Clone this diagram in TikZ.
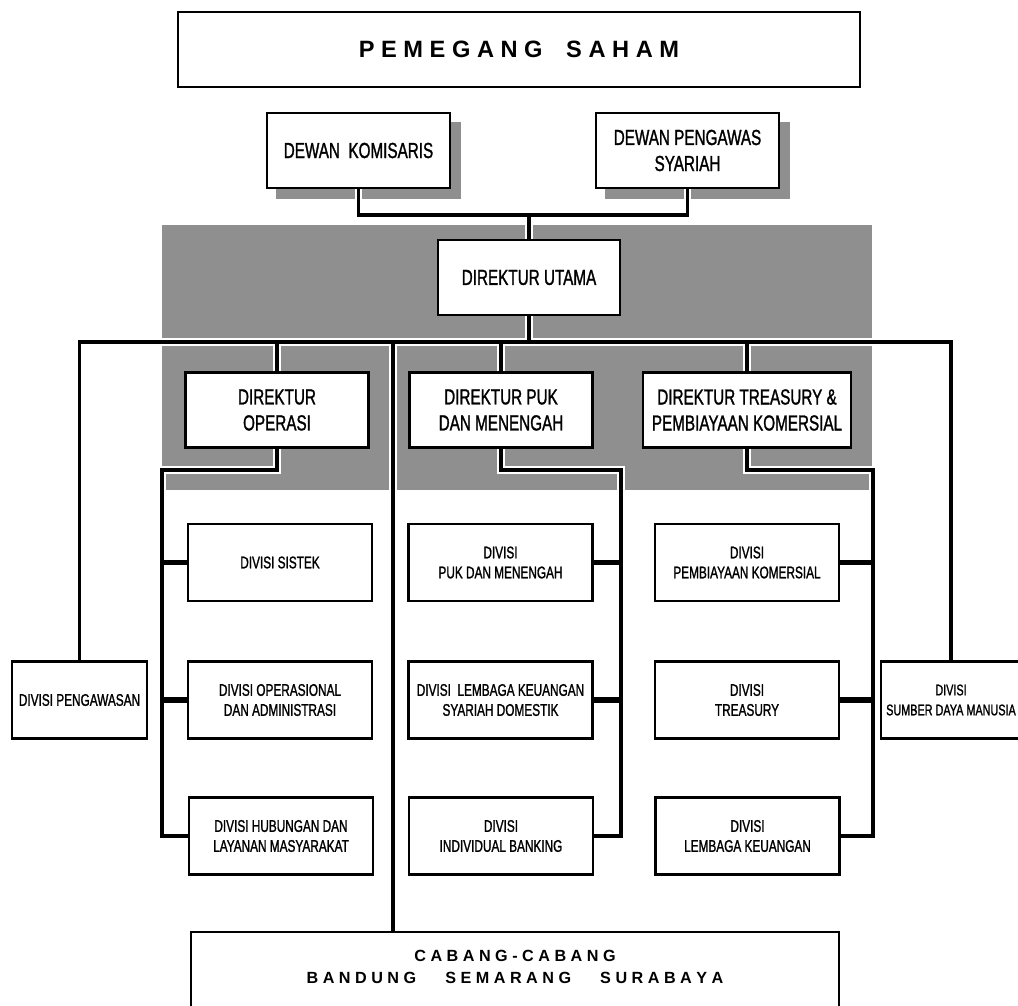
\documentclass[tikz,border=0pt]{standalone}
\usepackage{fontspec}
\setmainfont{Liberation Sans}
\newfontfamily\narrowfont[FakeStretch=0.7,FakeBold=1.2]{Liberation Sans}
\newcommand{\dirfont}{\narrowfont\fontsize{15.5}{18.5}\selectfont}
\newcommand{\divfont}{\narrowfont\fontsize{12}{14.2}\selectfont}
\newcommand{\spfont}{\bfseries\fontsize{16.8}{20}\selectfont}
\newcommand{\cbfont}{\bfseries\fontsize{11.5}{16}\selectfont}
\usepackage{tikz}
\usetikzlibrary{backgrounds}
\definecolor{halftone}{gray}{0.56}

\begin{document}
\begin{tikzpicture}[x=0.025cm,y=-0.025cm,
	box/.style={draw,line width=1.8pt,fill=white,align=center,inner sep=1pt},
	dewan/.style={box,minimum width=4.575cm,minimum height=1.875cm,font=\dirfont},
	direktur/.style={box,minimum height=1.875cm,font=\dirfont},
	divisi/.style={box,minimum width=4.6cm,minimum height=1.925cm,font=\divfont},
	halo/.style={draw=white,line width=#1+3pt},
	wire/.style={draw=black,line width=#1}]
\useasboundingbox (0,0) rectangle (1018,1005);

\node[box,minimum width=17.05cm,minimum height=1.875cm,font=\spfont] (saham) at (519,49.5) {P E M E G A N G\hspace{1em}S A H A M};
\node[dewan] (komisaris) at (358.5,150.5) {DEWAN\ \ KOMISARIS};
\node[dewan] (syariah) at (687.5,150.5) {DEWAN PENGAWAS\\SYARIAH};
\node[direktur,minimum width=4.55cm] (utama) at (529,277.5) {DIREKTUR UTAMA};

\node[direktur,minimum width=4.575cm] (operasi) at (277,410) {DIREKTUR\\OPERASI};
\node[direktur,minimum width=4.575cm] (puk) at (501,410) {DIREKTUR PUK\\DAN MENENGAH};
\node[direktur,minimum width=5.2cm] (treasury) at (747,410) {DIREKTUR TREASURY \&\\PEMBIAYAAN KOMERSIAL};

\node[divisi] (sistek) at (280,562.5) {DIVISI SISTEK};
\node[divisi] (opsadm) at (280,700) {DIVISI OPERASIONAL\\DAN ADMINISTRASI};
\node[divisi] (hubungan) at (281,836) {DIVISI HUBUNGAN DAN\\LAYANAN MASYARAKAT};
\node[divisi] (pukdiv) at (500.5,562.5) {DIVISI\\PUK DAN MENENGAH};
\node[divisi] (lksd) at (500.5,700) {DIVISI\ \ LEMBAGA KEUANGAN\\SYARIAH DOMESTIK};
\node[divisi] (individual) at (501,836) {DIVISI\\INDIVIDUAL BANKING};
\node[divisi] (pembiayaan) at (747,562.5) {DIVISI\\PEMBIAYAAN KOMERSIAL};
\node[divisi] (treadiv) at (747,700) {DIVISI\\TREASURY};
\node[divisi] (lembaga) at (747.5,836) {DIVISI\\LEMBAGA KEUANGAN};
\node[divisi,minimum width=3.375cm] (pengawasan) at (79.5,700) {DIVISI PENGAWASAN};
\node[divisi,minimum width=3.5cm,font=\narrowfont\fontsize{11}{14.2}\selectfont] (sdm) at (951,700) {DIVISI\\SUMBER DAYA MANUSIA};

\node[box,minimum width=16.2cm,minimum height=2.2cm] (cabang) at (515,976) {};
\node[font=\cbfont,align=center] (cabangtext) at (515,967) {C A B A N G - C A B A N G\\B A N D U N G\hspace{1.8em}S E M A R A N G\hspace{1.8em}S U R A B A Y A};

\coordinate (dewanbus) at (529,215);
\coordinate (bus) at (529,342);
\coordinate (trunk) at (393,342);
\coordinate (opsbus) at (162,470);
\coordinate (pukbus) at (621,470);
\coordinate (treabus) at (873,470);

\begin{scope}[on background layer]
\fill[halftone] (162,225) rectangle (872,490);
\foreach \d in {komisaris,syariah}
	\fill[halftone] ([xshift=0.25cm,yshift=-0.25cm]\d.south west) rectangle ([xshift=0.25cm,yshift=-0.25cm]\d.north east);
\end{scope}

\foreach \pass in {halo,wire} {
	\draw[\pass=2.4pt] (komisaris.south) |- (dewanbus) -| (syariah.south);
	\draw[\pass=2.4pt] (dewanbus) -- (utama.north);
	\draw[\pass=2.4pt] (utama.south) -- (bus);
	\draw[\pass=2.8pt] (pengawasan.north) -- (pengawasan.north |- bus) -- (sdm.north |- bus) -- (sdm.north);
	\foreach \d in {operasi,puk,treasury}
		\draw[\pass=2.4pt] (\d.north) -- (\d.north |- bus);
	\draw[\pass=2.4pt] (trunk) -- (trunk |- cabang.north);
	\draw[\pass=2.4pt] (operasi.south) |- (opsbus) |- (hubungan.west);
	\draw[\pass=2.4pt] (puk.south) |- (pukbus) |- (individual.east);
	\draw[\pass=2.4pt] (treasury.south) |- (treabus) |- (lembaga.east);
	\foreach \d in {sistek,opsadm}
		\draw[\pass=3.6pt] (\d.west) -- (opsbus |- \d.west);
	\foreach \d in {pukdiv,lksd}
		\draw[\pass=3.6pt] (\d.east) -- (pukbus |- \d.east);
	\foreach \d in {pembiayaan,treadiv}
		\draw[\pass=3.6pt] (\d.east) -- (treabus |- \d.east);}
\end{tikzpicture}
\end{document}
